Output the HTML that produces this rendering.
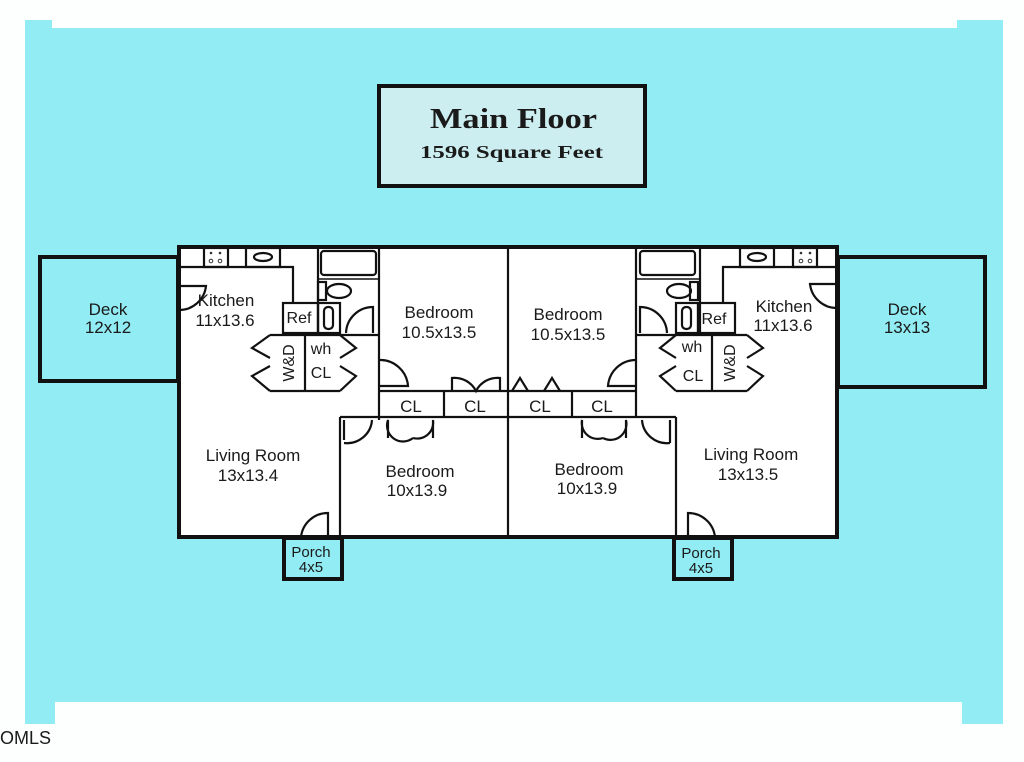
<!DOCTYPE html>
<html><head><meta charset="utf-8"><style>
html,body{margin:0;padding:0;background:#fff;}
svg{display:block;}
text{font-family:"Liberation Sans",sans-serif;fill:#1a1a1a;}
</style></head><body>
<svg width="1024" height="762" viewBox="0 0 1024 762" xmlns="http://www.w3.org/2000/svg">
<rect x="0" y="0" width="1024" height="762" fill="#fdfefe"/>
<path d="M25 20 H52 V28 H957 V20 H1003 V724 H962 V702 H55 V724 H25 Z" fill="#92ecf4"/>
<text x="0" y="744" font-size="18" style="font-family:'Liberation Sans Narrow','Liberation Sans',sans-serif" fill="#333">OMLS</text>

<rect x="379" y="86" width="266" height="100" fill="#cdeef0" stroke="#111" stroke-width="4"/>
<text x="430" y="128" font-size="28" font-weight="bold" textLength="167" lengthAdjust="spacingAndGlyphs" style="font-family:'Liberation Serif',serif">Main Floor</text>
<text x="420" y="158" font-size="18" font-weight="bold" textLength="183" lengthAdjust="spacingAndGlyphs" style="font-family:'Liberation Serif',serif">1596 Square Feet</text>

<rect x="40" y="257" width="138" height="124" fill="#92ecf4" stroke="#111" stroke-width="4"/>
<rect x="838" y="257" width="147" height="130" fill="#92ecf4" stroke="#111" stroke-width="4"/>
<text x="108" y="315" font-size="17" text-anchor="middle">Deck</text>
<text x="108" y="333" font-size="17" text-anchor="middle">12x12</text>
<text x="907" y="315" font-size="17" text-anchor="middle">Deck</text>
<text x="907" y="333" font-size="17" text-anchor="middle">13x13</text>

<rect x="284" y="538" width="58" height="41" fill="#92ecf4" stroke="#111" stroke-width="4"/>
<rect x="674" y="538" width="58" height="41" fill="#92ecf4" stroke="#111" stroke-width="4"/>
<text x="311" y="557" font-size="15" text-anchor="middle">Porch</text>
<text x="311" y="572" font-size="15" text-anchor="middle">4x5</text>
<text x="701" y="558" font-size="15" text-anchor="middle">Porch</text>
<text x="701" y="573" font-size="15" text-anchor="middle">4x5</text>

<rect x="179" y="247" width="658" height="290" fill="#fff" stroke="#111" stroke-width="4"/>

<g stroke="#111" stroke-width="2.2" fill="none">
<path d="M179 267 H293 V303"/>
<rect x="204" y="248" width="24" height="19"/>
<rect x="246" y="248" width="34" height="19"/>
<ellipse cx="263" cy="257" rx="9" ry="4"/>
<path d="M318 247 V333"/>
<path d="M379 247 V420"/>
<rect x="321" y="251" width="55" height="24" rx="3"/>
<path d="M318 279 H379" stroke-width="1.5"/>
<rect x="318" y="282" width="8" height="18"/>
<ellipse cx="339" cy="291" rx="12" ry="7"/>
<rect x="283" y="303" width="35" height="30"/>
<rect x="318" y="303" width="22" height="30"/>
<rect x="324" y="307" width="9" height="22" rx="4"/>
<path d="M373 333 V307 A27 27 0 0 0 346 333"/>
<path d="M270 335 H379"/>
<path d="M270 391 H340"/>
<path d="M305 335 V391"/>
<path d="M270 335 L252 348 L270 358 M270 366 L252 376 L270 391"/>
<path d="M340 335 L356 348 L340 358 M340 366 L356 376 L340 391"/>
<path d="M179 286 H206 A27 27 0 0 1 179 310"/>
<path d="M379 360 A28 28 0 0 1 408 386 H379"/>

<path d="M379 391 H636 M379 417 H636"/>
<path d="M444 391 V417 M508 247 V537 M572 391 V417 M636 247 V417"/>
<path d="M452 391 V378 A24 24 0 0 1 476 391 A24 24 0 0 1 500 378 V391"/>
<path d="M512 391 L520 378 L528 391 M544 391 L552 378 L560 391"/>
<path d="M340 417 V537 M676 417 V537"/>
<path d="M340 417 H379 M636 417 H676"/>
<path d="M344 440 V420 M344 443 A25 25 0 0 0 372 420"/>
<path d="M388 438 V420 A16 16 0 0 0 413 438 M413 438 A16 16 0 0 0 433 420 V438"/>
<path d="M582 438 V420 A16 16 0 0 0 603 438 M603 438 A16 16 0 0 0 626 420 V438"/>
<path d="M670 443 V420 M670 443 A25 25 0 0 1 642 420"/>
<path d="M328 537 V513 A27 27 0 0 0 301 537"/>
<path d="M688 537 V513 A27 27 0 0 1 715 537"/>

<path d="M700 247 V333"/>
<rect x="640" y="251" width="55" height="24" rx="3"/>
<path d="M636 279 H700" stroke-width="1.5"/>
<rect x="690" y="282" width="8" height="18"/>
<ellipse cx="679" cy="291" rx="12" ry="7"/>
<rect x="676" y="303" width="22" height="30"/>
<rect x="682" y="307" width="9" height="22" rx="4"/>
<rect x="698" y="303" width="37" height="30"/>
<path d="M640 333 V307 A27 27 0 0 1 667 333"/>
<path d="M837 267 H723 V303"/>
<rect x="740" y="248" width="34" height="19"/>
<ellipse cx="757" cy="257" rx="9" ry="4"/>
<rect x="793" y="248" width="24" height="19"/>
<path d="M837 284 H810 A27 27 0 0 0 837 308"/>
<path d="M636 335 H747 M676 391 H747 M712 335 V391"/>
<path d="M676 335 L660 348 L676 358 M676 366 L660 376 L676 391"/>
<path d="M747 335 L763 348 L747 358 M747 366 L763 376 L747 391"/>
<path d="M636 360 A28 28 0 0 0 608 386 H636"/>
</g>
<g fill="#333">
<circle cx="211" cy="253" r="1.3"/><circle cx="220" cy="253" r="1.3"/>
<circle cx="211" cy="261" r="1.8" fill="none" stroke="#333"/><circle cx="220" cy="261" r="1.8" fill="none" stroke="#333"/>
<circle cx="801" cy="253" r="1.3"/><circle cx="810" cy="253" r="1.3"/>
<circle cx="801" cy="261" r="1.8" fill="none" stroke="#333"/><circle cx="810" cy="261" r="1.8" fill="none" stroke="#333"/>
</g>

<g font-size="17">
<text x="226" y="306" text-anchor="middle">Kitchen</text>
<text x="225" y="326" text-anchor="middle">11x13.6</text>
<text x="299" y="323" text-anchor="middle" font-size="16">Ref</text>
<text x="321" y="354" text-anchor="middle" font-size="16">wh</text>
<text x="321" y="378" text-anchor="middle" font-size="16">CL</text>
<text transform="translate(294,363) rotate(-90)" text-anchor="middle" font-size="16">W&amp;D</text>
<text x="439" y="318" text-anchor="middle">Bedroom</text>
<text x="439" y="338" text-anchor="middle">10.5x13.5</text>
<text x="568" y="320" text-anchor="middle">Bedroom</text>
<text x="568" y="340" text-anchor="middle">10.5x13.5</text>
<text x="411" y="412" text-anchor="middle">CL</text>
<text x="475" y="412" text-anchor="middle">CL</text>
<text x="540" y="412" text-anchor="middle">CL</text>
<text x="602" y="412" text-anchor="middle">CL</text>
<text x="253" y="461" text-anchor="middle">Living Room</text>
<text x="248" y="481" text-anchor="middle">13x13.4</text>
<text x="420" y="477" text-anchor="middle">Bedroom</text>
<text x="417" y="496" text-anchor="middle">10x13.9</text>
<text x="589" y="475" text-anchor="middle">Bedroom</text>
<text x="587" y="494" text-anchor="middle">10x13.9</text>
<text x="751" y="460" text-anchor="middle">Living Room</text>
<text x="748" y="480" text-anchor="middle">13x13.5</text>
<text x="784" y="312" text-anchor="middle">Kitchen</text>
<text x="783" y="331" text-anchor="middle">11x13.6</text>
<text x="714" y="324" text-anchor="middle" font-size="16">Ref</text>
<text x="692" y="352" text-anchor="middle" font-size="16">wh</text>
<text x="693" y="381" text-anchor="middle" font-size="16">CL</text>
<text transform="translate(735,363) rotate(-90)" text-anchor="middle" font-size="16">W&amp;D</text>
</g>
</svg>
</body></html>
